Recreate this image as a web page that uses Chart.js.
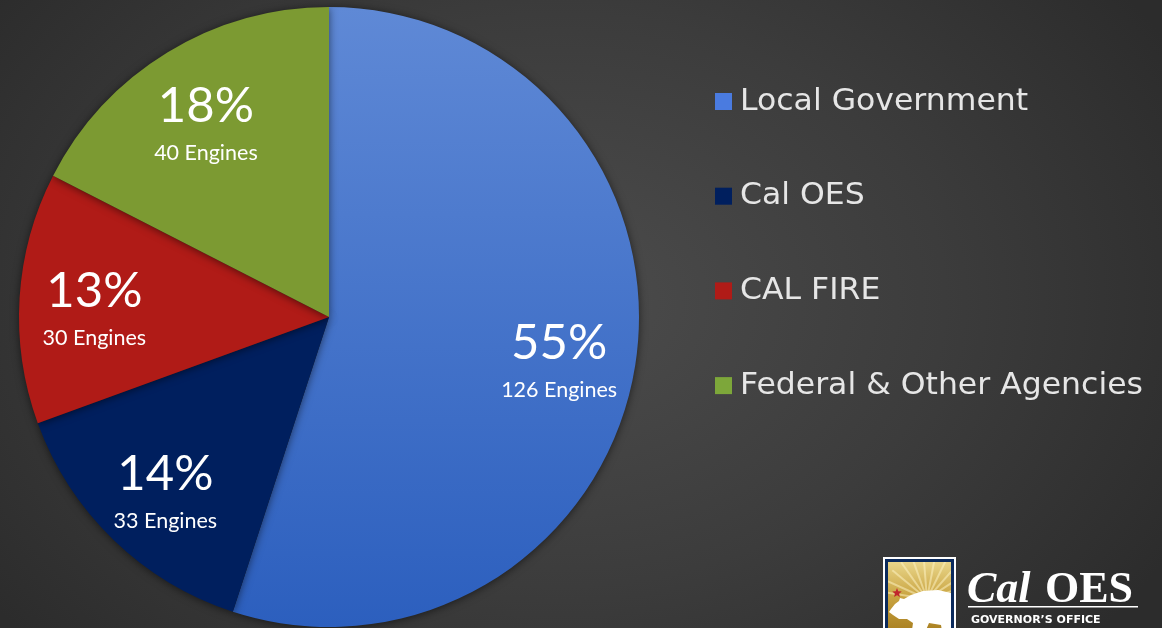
<!DOCTYPE html>
<html>
<head>
<meta charset="utf-8">
<script src="https://cdn.jsdelivr.net/npm/chart.js@4.4.1/dist/chart.umd.min.js"></script>
<style>
  html, body { margin: 0; padding: 0; width: 1162px; height: 628px; overflow: hidden; }
  body { background: radial-gradient(ellipse 700px 520px at 560px 300px, #4c4c4c 0%, #3c3c3c 55%, #2c2c2c 100%); }
  #wrap { position: absolute; left: 0; top: 0; width: 1162px; height: 628px; }
</style>
</head>
<body>
<div id="wrap"><canvas id="c" width="1162" height="628"></canvas></div>
<script>
const categories = ['Local Government', 'Cal OES', 'CAL FIRE', 'Federal & Other Agencies'];
const engines = [126, 33, 30, 40];
const percentLabels = ['55%', '14%', '13%', '18%'];
const engineLabels = ['126 Engines', '33 Engines', '30 Engines', '40 Engines'];
const sliceColors = ['#4a74cb', '#001f5e', '#b01b17', '#7c9a32'];

function blueGradient(ctx) {
  const chart = ctx.chart;
  const a = chart.chartArea;
  if (!a) return sliceColors[0];
  const g = chart.ctx.createLinearGradient(0, a.top, 0, a.bottom);
  g.addColorStop(0, '#5f89d6');
  g.addColorStop(1, '#2c5fbe');
  return g;
}

const shadowPlugin = {
  id: 'pieShadow',
  beforeDatasetsDraw(chart) {
    const ctx = chart.ctx;
    ctx.save();
    ctx.shadowColor = 'rgba(0,0,0,0.55)';
    ctx.shadowBlur = 8;
    ctx.shadowOffsetX = 0;
    ctx.shadowOffsetY = 1;
  },
  afterDatasetsDraw(chart) {
    chart.ctx.restore();
  }
};

const labelPlugin = {
  id: 'sliceLabels',
  afterDatasetsDraw(chart) {
    const ctx = chart.ctx;
    const meta = chart.getDatasetMeta(0);
    ctx.save();
    ctx.fillStyle = '#ffffff';
    ctx.textAlign = 'center';
    ctx.textBaseline = 'middle';
    meta.data.forEach((arc, i) => {
      const p = arc.getProps(['x', 'y', 'startAngle', 'endAngle', 'outerRadius'], true);
      const mid = (p.startAngle + p.endAngle) / 2;
      const r = p.outerRadius * 0.755;
      const cx = p.x + Math.cos(mid) * r;
      const cy = p.y + Math.sin(mid) * r;
      ctx.font = '49px Lato, "Open Sans", sans-serif';
      ctx.fillText(percentLabels[i], cx - 1, cy - 11);
      ctx.font = '21.5px Lato, "Open Sans", sans-serif';
      ctx.fillText(engineLabels[i], cx - 1, cy + 36);
    });
    ctx.restore();
  }
};

const legendPlugin = {
  id: 'sideLegend',
  afterDraw(chart) {
    const ctx = chart.ctx;
    ctx.save();
    const x0 = 715, y0 = 101, step = 94.7;
    categories.forEach((name, i) => {
      const y = y0 + i * step;
      ctx.fillStyle = i === 0 ? '#4a7be0' : sliceColors[i];
      if (i === 3) ctx.fillStyle = '#7da73a';
      ctx.fillRect(x0, y - 8, 17, 17);
      ctx.fillStyle = '#e6e6e6';
      ctx.font = '30px "DejaVu Sans", sans-serif';
      ctx.textBaseline = 'middle';
      ctx.textAlign = 'left';
      ctx.save();
      ctx.translate(740, y + 1);
      ctx.scale(1.05, 1);
      ctx.fillText(name, 0, 0);
      ctx.restore();
    });
    ctx.restore();
  }
};

const logoPlugin = {
  id: 'logo',
  afterDraw(chart) {
    const ctx = chart.ctx;
    ctx.save();
    const sx = 883, sy = 557, sw = 73, sh = 80;
    ctx.fillStyle = '#ffffff';
    ctx.fillRect(sx, sy, sw, sh);
    ctx.fillStyle = '#0b2a5c';
    ctx.fillRect(sx + 2, sy + 2, sw - 4, sh);
    const g = ctx.createLinearGradient(0, sy + 6, 0, sy + sh);
    g.addColorStop(0, '#e8d488');
    g.addColorStop(0.45, '#c9a441');
    g.addColorStop(1, '#a47a1c');
    ctx.fillStyle = g;
    ctx.fillRect(sx + 5, sy + 5, sw - 10, sh);
    // sun rays
    ctx.save();
    ctx.beginPath();
    ctx.rect(sx + 5, sy + 5, sw - 10, sh);
    ctx.clip();
    ctx.strokeStyle = 'rgba(255,245,200,0.5)';
    ctx.lineWidth = 2;
    for (let k = 0; k < 11; k++) {
      const a = Math.PI * (1.05 + k * 0.085);
      ctx.beginPath();
      ctx.moveTo(sx + 44, sy + 42);
      ctx.lineTo(sx + 44 + Math.cos(a) * 45, sy + 42 + Math.sin(a) * 45);
      ctx.stroke();
    }
    // bear silhouette
    ctx.fillStyle = '#ffffff';
    const pts = [[8,52],[12,47],[16,44],[17,41],[21,42],[28,38],[40,34],[55,33],[68,36],[75,40],[75,80],[60,80],[58,68],[46,66],[40,80],[28,80],[30,66],[24,62],[16,62],[10,58],[6,55]];
    ctx.beginPath();
    pts.forEach((q, k) => k === 0 ? ctx.moveTo(sx + q[0], sy + q[1]) : ctx.lineTo(sx + q[0], sy + q[1]));
    ctx.closePath();
    ctx.fill();
    ctx.restore();
    // star
    ctx.fillStyle = '#c0272d';
    ctx.beginPath();
    for (let k = 0; k < 10; k++) {
      const rr = k % 2 === 0 ? 5 : 2.2;
      const a = -Math.PI / 2 + k * Math.PI / 5;
      const px = sx + 14 + Math.cos(a) * rr, py = sy + 36 + Math.sin(a) * rr;
      k === 0 ? ctx.moveTo(px, py) : ctx.lineTo(px, py);
    }
    ctx.closePath();
    ctx.fill();
    // text
    ctx.fillStyle = '#ffffff';
    ctx.textBaseline = 'alphabetic';
    ctx.textAlign = 'left';
    ctx.font = 'italic bold 44px "Liberation Serif", serif';
    ctx.fillText('Cal', 967, 602);
    ctx.font = 'bold 44px "Liberation Serif", serif';
    ctx.fillText('OES', 1045, 602);
    ctx.fillRect(968, 606, 170, 1.5);
    ctx.font = 'bold 11px "DejaVu Sans", sans-serif';
    ctx.fillText('GOVERNOR\u2019S OFFICE', 971, 623);
    ctx.restore();
  }
};

new Chart(document.getElementById('c'), {
  type: 'pie',
  data: {
    labels: categories,
    datasets: [{
      data: engines,
      backgroundColor: (ctx) => ctx.dataIndex === 0 ? blueGradient(ctx) : sliceColors[ctx.dataIndex],
      borderWidth: 0
    }]
  },
  options: {
    responsive: false,
    animation: false,
    layout: { padding: { left: 19, top: 7, right: 523, bottom: 1 } },
    plugins: {
      legend: { display: false },
      tooltip: { enabled: false }
    }
  },
  plugins: [shadowPlugin, labelPlugin, legendPlugin, logoPlugin]
});
</script>
</body>
</html>
